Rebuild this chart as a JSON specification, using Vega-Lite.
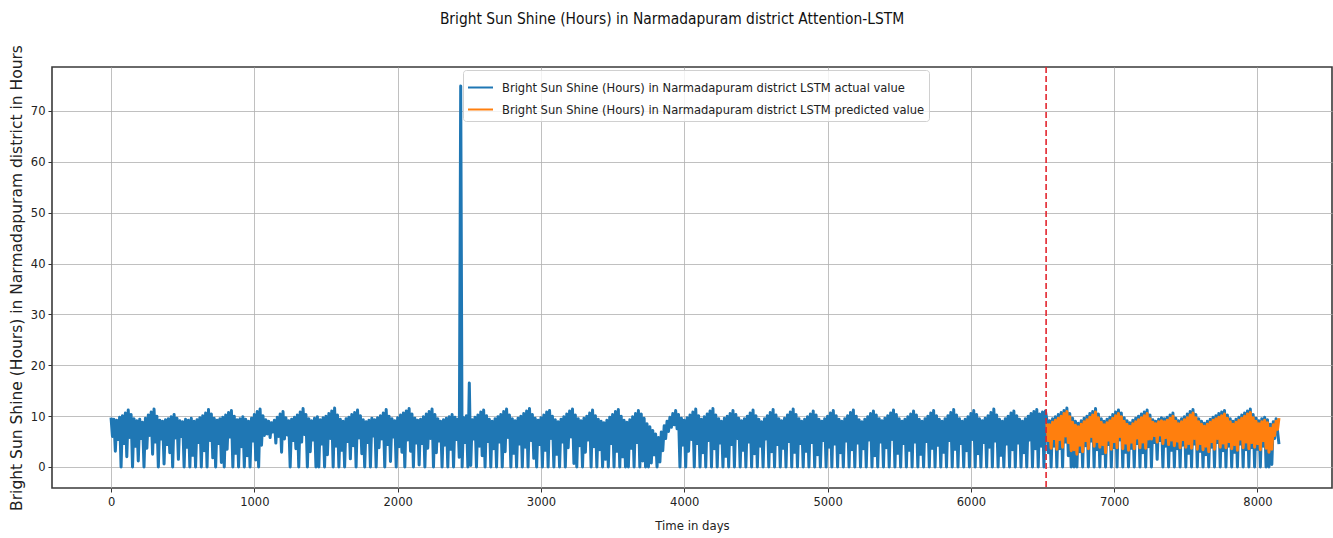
{
  "$schema": "https://vega.github.io/schema/vega-lite/v6.json",
  "width": 1280,
  "height": 421,
  "autosize": {"type": "none"},
  "padding": {"left": 52, "top": 67, "right": 1, "bottom": 50},
  "background": "white",
  "title": {
    "text": "Bright Sun Shine (Hours) in Narmadapuram district Attention-LSTM",
    "font": "DejaVu Sans Condensed, Liberation Sans Narrow, DejaVu Sans",
    "fontSize": 15.4,
    "fontWeight": "normal",
    "color": "#111111",
    "offset": 17,
    "dx": -20
  },
  "config": {
    "view": {"stroke": "#3a3a3a", "strokeWidth": 1.6},
    "axis": {
      "labelFont": "DejaVu Sans Condensed, Liberation Sans Narrow, DejaVu Sans",
      "labelFontSize": 12.8,
      "labelColor": "#222222",
      "tickColor": "#333333",
      "tickSize": 4,
      "labelPadding": 3,
      "gridColor": "#b0b0b0",
      "gridWidth": 0.8,
      "domain": false,
      "titleFontWeight": "normal",
      "titleColor": "#222222"
    }
  },
  "data": {"values": [
    {"t":0,"a":9.7},{"t":10,"a":6.0},{"t":20,"a":9.4},{"t":30,"a":3.1},{"t":40,"a":9.2},{"t":50,"a":5.4},{"t":60,"a":9.8},{"t":70,"a":0},{"t":80,"a":10.1},{"t":90,"a":4.6},{"t":100,"a":10.6},{"t":110,"a":2.0},{"t":120,"a":11.2},{"t":130,"a":5.8},{"t":140,"a":10.3},{"t":150,"a":0},{"t":160,"a":9.5},{"t":170,"a":4.1},
    {"t":180,"a":9.1},{"t":190,"a":1.2},{"t":200,"a":9.4},{"t":210,"a":5.6},{"t":220,"a":8.8},{"t":230,"a":0},{"t":240,"a":9.6},{"t":250,"a":3.7},{"t":260,"a":10.2},{"t":270,"a":6.2},{"t":280,"a":10.8},{"t":290,"a":2.5},{"t":300,"a":11.4},{"t":310,"a":4.9},{"t":320,"a":10.0},{"t":330,"a":0},{"t":340,"a":9.2},{"t":350,"a":5.5},
    {"t":360,"a":9.0},{"t":370,"a":0.6},{"t":380,"a":9.3},{"t":390,"a":4.4},{"t":400,"a":9.5},{"t":410,"a":2.8},{"t":420,"a":9.9},{"t":430,"a":0},{"t":440,"a":10.3},{"t":450,"a":5.7},{"t":460,"a":9.6},{"t":470,"a":1.5},{"t":480,"a":9.1},{"t":490,"a":6.0},{"t":500,"a":8.9},{"t":510,"a":0},{"t":520,"a":9.4},{"t":530,"a":3.9},
    {"t":540,"a":9.2},{"t":550,"a":0},{"t":560,"a":9.6},{"t":570,"a":2.3},{"t":580,"a":9.0},{"t":590,"a":0},{"t":600,"a":9.3},{"t":610,"a":4.8},{"t":620,"a":9.7},{"t":630,"a":0},{"t":640,"a":10.1},{"t":650,"a":3.2},{"t":660,"a":10.6},{"t":670,"a":0},{"t":680,"a":11.3},{"t":690,"a":5.2},{"t":700,"a":10.4},{"t":710,"a":1.8},
    {"t":720,"a":9.6},{"t":730,"a":0},{"t":740,"a":9.2},{"t":750,"a":4.6},{"t":760,"a":9.5},{"t":770,"a":0.9},{"t":780,"a":9.8},{"t":790,"a":0},{"t":800,"a":10.2},{"t":810,"a":3.5},{"t":820,"a":10.7},{"t":830,"a":5.9},{"t":840,"a":11.1},{"t":850,"a":0},{"t":860,"a":10.0},{"t":870,"a":2.7},{"t":880,"a":9.3},{"t":890,"a":0},
    {"t":900,"a":9.5},{"t":910,"a":4.0},{"t":920,"a":9.9},{"t":930,"a":0},{"t":940,"a":9.4},{"t":950,"a":2.2},{"t":960,"a":9.0},{"t":970,"a":0},{"t":980,"a":9.6},{"t":990,"a":5.1},{"t":1000,"a":10.3},{"t":1010,"a":1.4},{"t":1020,"a":10.9},{"t":1030,"a":0},{"t":1040,"a":11.4},{"t":1050,"a":4.3},{"t":1060,"a":10.1},{"t":1070,"a":6.2},
    {"t":1080,"a":9.3},{"t":1090,"a":6.5},{"t":1100,"a":9.0},{"t":1110,"a":5.8},{"t":1120,"a":8.7},{"t":1130,"a":6.9},{"t":1140,"a":9.2},{"t":1150,"a":4.7},{"t":1160,"a":9.8},{"t":1170,"a":6.0},{"t":1180,"a":10.4},{"t":1190,"a":2.9},{"t":1200,"a":10.9},{"t":1210,"a":5.5},{"t":1220,"a":9.7},{"t":1230,"a":6.3},{"t":1240,"a":9.1},{"t":1250,"a":0},
    {"t":1260,"a":9.4},{"t":1270,"a":5.2},{"t":1280,"a":9.8},{"t":1290,"a":3.6},{"t":1300,"a":10.2},{"t":1310,"a":0},{"t":1320,"a":10.8},{"t":1330,"a":4.9},{"t":1340,"a":11.5},{"t":1350,"a":6.4},{"t":1360,"a":10.3},{"t":1370,"a":0},{"t":1380,"a":9.5},{"t":1390,"a":3.0},{"t":1400,"a":9.1},{"t":1410,"a":5.3},{"t":1420,"a":9.6},{"t":1430,"a":0},
    {"t":1440,"a":9.9},{"t":1450,"a":0},{"t":1460,"a":9.3},{"t":1470,"a":4.5},{"t":1480,"a":9.7},{"t":1490,"a":0},{"t":1500,"a":10.0},{"t":1510,"a":2.4},{"t":1520,"a":10.5},{"t":1530,"a":5.6},{"t":1540,"a":11.0},{"t":1550,"a":0},{"t":1560,"a":11.6},{"t":1570,"a":4.1},{"t":1580,"a":10.2},{"t":1590,"a":0},{"t":1600,"a":9.4},{"t":1610,"a":3.3},
    {"t":1620,"a":9.0},{"t":1630,"a":0},{"t":1640,"a":9.5},{"t":1650,"a":5.0},{"t":1660,"a":9.8},{"t":1670,"a":1.6},{"t":1680,"a":10.3},{"t":1690,"a":4.2},{"t":1700,"a":10.7},{"t":1710,"a":0},{"t":1720,"a":11.2},{"t":1730,"a":5.7},{"t":1740,"a":10.1},{"t":1750,"a":2.6},{"t":1760,"a":9.3},{"t":1770,"a":0},{"t":1780,"a":8.9},{"t":1790,"a":4.8},
    {"t":1800,"a":9.2},{"t":1810,"a":0},{"t":1820,"a":9.6},{"t":1830,"a":6.1},{"t":1840,"a":9.3},{"t":1850,"a":0},{"t":1860,"a":9.7},{"t":1870,"a":3.8},{"t":1880,"a":10.1},{"t":1890,"a":5.5},{"t":1900,"a":10.6},{"t":1910,"a":0},{"t":1920,"a":11.3},{"t":1930,"a":4.4},{"t":1940,"a":10.0},{"t":1950,"a":1.1},{"t":1960,"a":9.5},{"t":1970,"a":5.9},
    {"t":1980,"a":9.1},{"t":1990,"a":0},{"t":2000,"a":9.7},{"t":2010,"a":4.0},{"t":2020,"a":10.2},{"t":2030,"a":2.9},{"t":2040,"a":10.6},{"t":2050,"a":0},{"t":2060,"a":11.0},{"t":2070,"a":5.3},{"t":2080,"a":11.5},{"t":2090,"a":3.1},{"t":2100,"a":10.4},{"t":2110,"a":0},{"t":2120,"a":9.6},{"t":2130,"a":4.7},{"t":2140,"a":9.2},{"t":2150,"a":0.4},
    {"t":2160,"a":9.4},{"t":2170,"a":4.6},{"t":2180,"a":9.9},{"t":2190,"a":0},{"t":2200,"a":10.4},{"t":2210,"a":3.7},{"t":2220,"a":10.9},{"t":2230,"a":5.6},{"t":2240,"a":11.4},{"t":2250,"a":0},{"t":2260,"a":10.3},{"t":2270,"a":2.8},{"t":2280,"a":9.5},{"t":2290,"a":5.1},{"t":2300,"a":9.0},{"t":2310,"a":0},{"t":2320,"a":9.3},{"t":2330,"a":4.3},
    {"t":2340,"a":9.6},{"t":2350,"a":0},{"t":2360,"a":9.9},{"t":2370,"a":3.5},{"t":2380,"a":10.3},{"t":2390,"a":0},{"t":2400,"a":9.8},{"t":2410,"a":5.4},{"t":2420,"a":9.4},{"t":2430,"a":1.9},{"t":2440,"a":74.9},{"t":2450,"a":0},{"t":2460,"a":9.7},{"t":2470,"a":4.8},{"t":2480,"a":10.1},{"t":2490,"a":0},{"t":2500,"a":16.5},{"t":2510,"a":0.3},
    {"t":2520,"a":9.3},{"t":2530,"a":5.5},{"t":2540,"a":9.8},{"t":2550,"a":0},{"t":2560,"a":10.2},{"t":2570,"a":4.1},{"t":2580,"a":10.8},{"t":2590,"a":2.2},{"t":2600,"a":11.2},{"t":2610,"a":0},{"t":2620,"a":10.1},{"t":2630,"a":5.0},{"t":2640,"a":9.4},{"t":2650,"a":0},{"t":2660,"a":9.0},{"t":2670,"a":3.6},{"t":2680,"a":9.5},{"t":2690,"a":0},
    {"t":2700,"a":9.9},{"t":2710,"a":4.9},{"t":2720,"a":10.3},{"t":2730,"a":0},{"t":2740,"a":10.9},{"t":2750,"a":3.0},{"t":2760,"a":11.4},{"t":2770,"a":5.8},{"t":2780,"a":10.2},{"t":2790,"a":0},{"t":2800,"a":9.5},{"t":2810,"a":2.7},{"t":2820,"a":9.1},{"t":2830,"a":0},{"t":2840,"a":9.6},{"t":2850,"a":4.5},{"t":2860,"a":10.0},{"t":2870,"a":0},
    {"t":2880,"a":10.5},{"t":2890,"a":3.9},{"t":2900,"a":11.0},{"t":2910,"a":0},{"t":2920,"a":11.5},{"t":2930,"a":5.2},{"t":2940,"a":10.3},{"t":2950,"a":1.7},{"t":2960,"a":9.6},{"t":2970,"a":0},{"t":2980,"a":9.2},{"t":2990,"a":4.4},{"t":3000,"a":9.7},{"t":3010,"a":0},{"t":3020,"a":10.2},{"t":3030,"a":3.3},{"t":3040,"a":10.8},{"t":3050,"a":0},
    {"t":3060,"a":11.1},{"t":3070,"a":5.6},{"t":3080,"a":10.0},{"t":3090,"a":0},{"t":3100,"a":9.3},{"t":3110,"a":2.5},{"t":3120,"a":8.9},{"t":3130,"a":0},{"t":3140,"a":9.4},{"t":3150,"a":4.9},{"t":3160,"a":9.9},{"t":3170,"a":0},{"t":3180,"a":10.4},{"t":3190,"a":3.8},{"t":3200,"a":11.0},{"t":3210,"a":5.9},{"t":3220,"a":11.4},{"t":3230,"a":0.7},
    {"t":3240,"a":10.2},{"t":3250,"a":0},{"t":3260,"a":9.5},{"t":3270,"a":4.2},{"t":3280,"a":9.1},{"t":3290,"a":0},{"t":3300,"a":9.6},{"t":3310,"a":2.9},{"t":3320,"a":10.0},{"t":3330,"a":5.3},{"t":3340,"a":10.6},{"t":3350,"a":0},{"t":3360,"a":11.2},{"t":3370,"a":4.0},{"t":3380,"a":10.1},{"t":3390,"a":0},{"t":3400,"a":9.4},{"t":3410,"a":3.4},
    {"t":3420,"a":9.0},{"t":3430,"a":0},{"t":3440,"a":8.7},{"t":3450,"a":1.5},{"t":3460,"a":9.2},{"t":3470,"a":0},{"t":3480,"a":9.8},{"t":3490,"a":4.6},{"t":3500,"a":10.3},{"t":3510,"a":0},{"t":3520,"a":10.9},{"t":3530,"a":3.1},{"t":3540,"a":11.3},{"t":3550,"a":0},{"t":3560,"a":10.0},{"t":3570,"a":2.0},{"t":3580,"a":9.2},{"t":3590,"a":0},
    {"t":3600,"a":8.8},{"t":3610,"a":0},{"t":3620,"a":9.3},{"t":3630,"a":3.7},{"t":3640,"a":9.9},{"t":3650,"a":0},{"t":3660,"a":10.5},{"t":3670,"a":4.8},{"t":3680,"a":11.1},{"t":3690,"a":0},{"t":3700,"a":10.4},{"t":3710,"a":1.2},{"t":3720,"a":9.6},{"t":3730,"a":0},{"t":3740,"a":8.5},{"t":3750,"a":0},{"t":3760,"a":7.9},{"t":3770,"a":0.8},
    {"t":3780,"a":7.2},{"t":3790,"a":2.4},{"t":3800,"a":6.5},{"t":3810,"a":0},{"t":3820,"a":5.8},{"t":3830,"a":1.0},{"t":3840,"a":6.9},{"t":3850,"a":3.2},{"t":3860,"a":8.1},{"t":3870,"a":5.6},{"t":3880,"a":9.0},{"t":3890,"a":7.0},{"t":3900,"a":9.8},{"t":3910,"a":7.8},{"t":3920,"a":10.5},{"t":3930,"a":8.3},{"t":3940,"a":11.1},{"t":3950,"a":7.5},
    {"t":3960,"a":10.3},{"t":3970,"a":0},{"t":3980,"a":9.6},{"t":3990,"a":4.3},{"t":4000,"a":9.2},{"t":4010,"a":0},{"t":4020,"a":9.7},{"t":4030,"a":3.1},{"t":4040,"a":10.2},{"t":4050,"a":5.4},{"t":4060,"a":10.8},{"t":4070,"a":0},{"t":4080,"a":11.4},{"t":4090,"a":4.6},{"t":4100,"a":10.1},{"t":4110,"a":0},{"t":4120,"a":9.4},{"t":4130,"a":2.8},
    {"t":4140,"a":9.9},{"t":4150,"a":0},{"t":4160,"a":10.4},{"t":4170,"a":5.2},{"t":4180,"a":11.0},{"t":4190,"a":0},{"t":4200,"a":11.5},{"t":4210,"a":3.6},{"t":4220,"a":10.2},{"t":4230,"a":0},{"t":4240,"a":9.5},{"t":4250,"a":4.7},{"t":4260,"a":9.0},{"t":4270,"a":0},{"t":4280,"a":9.6},{"t":4290,"a":2.1},{"t":4300,"a":10.0},{"t":4310,"a":0},
    {"t":4320,"a":10.5},{"t":4330,"a":4.4},{"t":4340,"a":11.1},{"t":4350,"a":0},{"t":4360,"a":10.3},{"t":4370,"a":5.6},{"t":4380,"a":9.6},{"t":4390,"a":0},{"t":4400,"a":9.1},{"t":4410,"a":3.3},{"t":4420,"a":9.5},{"t":4430,"a":0},{"t":4440,"a":10.0},{"t":4450,"a":4.9},{"t":4460,"a":10.6},{"t":4470,"a":0},{"t":4480,"a":11.2},{"t":4490,"a":2.6},
    {"t":4500,"a":10.1},{"t":4510,"a":0},{"t":4520,"a":9.4},{"t":4530,"a":4.1},{"t":4540,"a":8.9},{"t":4550,"a":0},{"t":4560,"a":9.5},{"t":4570,"a":5.5},{"t":4580,"a":10.1},{"t":4590,"a":0},{"t":4600,"a":10.7},{"t":4610,"a":3.0},{"t":4620,"a":11.3},{"t":4630,"a":0},{"t":4640,"a":10.2},{"t":4650,"a":4.4},{"t":4660,"a":9.5},{"t":4670,"a":0},
    {"t":4680,"a":9.1},{"t":4690,"a":3.7},{"t":4700,"a":9.6},{"t":4710,"a":0},{"t":4720,"a":10.2},{"t":4730,"a":5.0},{"t":4740,"a":10.8},{"t":4750,"a":0},{"t":4760,"a":11.4},{"t":4770,"a":2.9},{"t":4780,"a":10.3},{"t":4790,"a":0},{"t":4800,"a":9.5},{"t":4810,"a":4.6},{"t":4820,"a":9.0},{"t":4830,"a":0},{"t":4840,"a":9.4},{"t":4850,"a":3.1},
    {"t":4860,"a":9.9},{"t":4870,"a":0},{"t":4880,"a":10.4},{"t":4890,"a":4.8},{"t":4900,"a":11.0},{"t":4910,"a":0},{"t":4920,"a":10.2},{"t":4930,"a":2.4},{"t":4940,"a":9.4},{"t":4950,"a":0},{"t":4960,"a":9.0},{"t":4970,"a":5.2},{"t":4980,"a":9.5},{"t":4990,"a":0},{"t":5000,"a":10.0},{"t":5010,"a":3.9},{"t":5020,"a":10.6},{"t":5030,"a":0},
    {"t":5040,"a":11.1},{"t":5050,"a":4.5},{"t":5060,"a":10.1},{"t":5070,"a":0},{"t":5080,"a":9.4},{"t":5090,"a":2.8},{"t":5100,"a":9.0},{"t":5110,"a":0},{"t":5120,"a":9.5},{"t":5130,"a":5.1},{"t":5140,"a":10.1},{"t":5150,"a":0},{"t":5160,"a":10.7},{"t":5170,"a":3.4},{"t":5180,"a":11.2},{"t":5190,"a":0},{"t":5200,"a":10.0},{"t":5210,"a":4.7},
    {"t":5220,"a":9.3},{"t":5230,"a":0},{"t":5240,"a":8.9},{"t":5250,"a":3.6},{"t":5260,"a":9.4},{"t":5270,"a":0},{"t":5280,"a":9.9},{"t":5290,"a":5.3},{"t":5300,"a":10.5},{"t":5310,"a":0},{"t":5320,"a":11.0},{"t":5330,"a":2.2},{"t":5340,"a":10.2},{"t":5350,"a":0},{"t":5360,"a":9.5},{"t":5370,"a":4.9},{"t":5380,"a":9.1},{"t":5390,"a":0},
    {"t":5400,"a":9.6},{"t":5410,"a":3.8},{"t":5420,"a":10.1},{"t":5430,"a":0},{"t":5440,"a":10.6},{"t":5450,"a":5.4},{"t":5460,"a":11.2},{"t":5470,"a":0},{"t":5480,"a":10.3},{"t":5490,"a":2.7},{"t":5500,"a":9.5},{"t":5510,"a":0},{"t":5520,"a":9.0},{"t":5530,"a":4.6},{"t":5540,"a":9.4},{"t":5550,"a":0},{"t":5560,"a":9.9},{"t":5570,"a":3.3},
    {"t":5580,"a":10.4},{"t":5590,"a":0},{"t":5600,"a":11.0},{"t":5610,"a":4.9},{"t":5620,"a":10.2},{"t":5630,"a":0},{"t":5640,"a":9.4},{"t":5650,"a":2.5},{"t":5660,"a":9.0},{"t":5670,"a":0},{"t":5680,"a":9.5},{"t":5690,"a":5.0},{"t":5700,"a":10.0},{"t":5710,"a":0},{"t":5720,"a":10.6},{"t":5730,"a":3.7},{"t":5740,"a":11.1},{"t":5750,"a":0},
    {"t":5760,"a":10.1},{"t":5770,"a":4.3},{"t":5780,"a":9.4},{"t":5790,"a":0},{"t":5800,"a":9.0},{"t":5810,"a":2.9},{"t":5820,"a":9.5},{"t":5830,"a":0},{"t":5840,"a":10.1},{"t":5850,"a":5.2},{"t":5860,"a":10.7},{"t":5870,"a":0},{"t":5880,"a":11.3},{"t":5890,"a":3.5},{"t":5900,"a":10.2},{"t":5910,"a":0},{"t":5920,"a":9.5},{"t":5930,"a":4.6},
    {"t":5940,"a":9.0},{"t":5950,"a":0},{"t":5960,"a":9.4},{"t":5970,"a":3.2},{"t":5980,"a":9.9},{"t":5990,"a":0},{"t":6000,"a":10.5},{"t":6010,"a":5.4},{"t":6020,"a":11.1},{"t":6030,"a":0},{"t":6040,"a":10.3},{"t":6050,"a":2.6},{"t":6060,"a":9.5},{"t":6070,"a":0},{"t":6080,"a":9.1},{"t":6090,"a":4.8},{"t":6100,"a":9.6},{"t":6110,"a":0},
    {"t":6120,"a":10.1},{"t":6130,"a":3.9},{"t":6140,"a":10.7},{"t":6150,"a":0},{"t":6160,"a":11.4},{"t":6170,"a":5.1},{"t":6180,"a":10.2},{"t":6190,"a":0},{"t":6200,"a":9.4},{"t":6210,"a":2.3},{"t":6220,"a":9.0},{"t":6230,"a":0},{"t":6240,"a":9.5},{"t":6250,"a":4.5},{"t":6260,"a":10.0},{"t":6270,"a":0},{"t":6280,"a":10.6},{"t":6290,"a":3.4},
    {"t":6300,"a":11.0},{"t":6310,"a":0},{"t":6320,"a":10.1},{"t":6330,"a":4.7},{"t":6340,"a":9.4},{"t":6350,"a":0},{"t":6360,"a":9.0},{"t":6370,"a":2.8},{"t":6380,"a":9.5},{"t":6390,"a":0},{"t":6400,"a":10.0},{"t":6410,"a":5.3},{"t":6420,"a":10.5},{"t":6430,"a":0},{"t":6440,"a":10.9},{"t":6450,"a":3.6},{"t":6460,"a":11.3},{"t":6470,"a":0},
    {"t":6480,"a":10.4},{"t":6490,"a":4.1},{"t":6500,"a":10.8},{"t":6510,"a":0},{"t":6520,"a":11.0},
    {"t":6530,"a":9.4,"p":8.6},{"t":6540,"a":2.8,"p":5.2},{"t":6550,"a":9.1,"p":8.3},{"t":6560,"a":0,"p":3.7},{"t":6570,"a":9.5,"p":8.8},{"t":6580,"a":4.1,"p":5.6},{"t":6590,"a":9.9,"p":9.2},{"t":6600,"a":0,"p":3.5},{"t":6610,"a":10.3,"p":9.6},{"t":6620,"a":3.6,"p":5.4},{"t":6630,"a":10.7,"p":10.0},{"t":6640,"a":0,"p":3.9},{"t":6650,"a":11.1,"p":10.5},{"t":6660,"a":4.9,"p":6.1},{"t":6670,"a":11.6,"p":10.9},{"t":6680,"a":2.2,"p":4.8},{"t":6690,"a":10.5,"p":9.9},{"t":6700,"a":0,"p":3.2},
    {"t":6710,"a":9.6,"p":8.8},{"t":6720,"a":0,"p":3.4},{"t":6730,"a":9.0,"p":8.2},{"t":6740,"a":0,"p":2.5},{"t":6750,"a":8.6,"p":7.9},{"t":6760,"a":3.0,"p":4.3},{"t":6770,"a":9.1,"p":8.4},{"t":6780,"a":0,"p":3.0},{"t":6790,"a":9.6,"p":8.9},{"t":6800,"a":4.2,"p":5.2},{"t":6810,"a":10.0,"p":9.3},{"t":6820,"a":0,"p":3.6},{"t":6830,"a":10.5,"p":9.8},{"t":6840,"a":5.1,"p":6.0},{"t":6850,"a":10.9,"p":10.2},{"t":6860,"a":0,"p":4.1},{"t":6870,"a":11.5,"p":10.8},{"t":6880,"a":3.4,"p":5.0},
    {"t":6890,"a":10.4,"p":9.7},{"t":6900,"a":0,"p":3.9},{"t":6910,"a":9.5,"p":8.8},{"t":6920,"a":2.6,"p":4.4},{"t":6930,"a":9.0,"p":8.3},{"t":6940,"a":0,"p":2.8},{"t":6950,"a":9.4,"p":8.7},{"t":6960,"a":4.4,"p":5.3},{"t":6970,"a":9.8,"p":9.1},{"t":6980,"a":0,"p":3.5},{"t":6990,"a":10.3,"p":9.6},{"t":7000,"a":3.8,"p":5.0},{"t":7010,"a":10.8,"p":10.1},{"t":7020,"a":0,"p":3.8},{"t":7030,"a":11.2,"p":10.5},{"t":7040,"a":5.3,"p":6.0},{"t":7050,"a":10.6,"p":9.9},{"t":7060,"a":0,"p":3.6},
    {"t":7070,"a":9.7,"p":9.0},{"t":7080,"a":2.9,"p":4.7},{"t":7090,"a":9.1,"p":8.4},{"t":7100,"a":0,"p":3.3},{"t":7110,"a":8.7,"p":8.0},{"t":7120,"a":3.7,"p":4.9},{"t":7130,"a":9.2,"p":8.5},{"t":7140,"a":0,"p":3.6},{"t":7150,"a":9.6,"p":8.9},{"t":7160,"a":4.6,"p":5.7},{"t":7170,"a":10.0,"p":9.3},{"t":7180,"a":0,"p":3.8},{"t":7190,"a":10.4,"p":9.7},{"t":7200,"a":2.8,"p":4.9},{"t":7210,"a":10.8,"p":10.1},{"t":7220,"a":0,"p":3.7},{"t":7230,"a":11.2,"p":10.5},{"t":7240,"a":4.0,"p":5.5},
    {"t":7250,"a":10.2,"p":9.5},{"t":7260,"a":0,"p":5.5},{"t":7270,"a":9.3,"p":8.8},{"t":7280,"a":4.8,"p":6.2},{"t":7290,"a":9.0,"p":8.5},{"t":7300,"a":1.5,"p":4.9},{"t":7310,"a":9.4,"p":8.9},{"t":7320,"a":5.2,"p":6.3},{"t":7330,"a":9.7,"p":9.1},{"t":7340,"a":0,"p":4.6},{"t":7350,"a":9.5,"p":8.9},{"t":7360,"a":4.1,"p":5.8},{"t":7370,"a":9.8,"p":9.2},{"t":7380,"a":0,"p":4.4},{"t":7390,"a":10.2,"p":9.6},{"t":7400,"a":3.3,"p":5.3},{"t":7410,"a":10.6,"p":10.0},{"t":7420,"a":0,"p":4.2},
    {"t":7430,"a":9.6,"p":9.0},{"t":7440,"a":3.6,"p":5.1},{"t":7450,"a":9.1,"p":8.5},{"t":7460,"a":0,"p":3.8},{"t":7470,"a":9.5,"p":8.9},{"t":7480,"a":4.3,"p":5.4},{"t":7490,"a":9.9,"p":9.3},{"t":7500,"a":0,"p":3.9},{"t":7510,"a":10.4,"p":9.7},{"t":7520,"a":2.7,"p":4.6},{"t":7530,"a":10.9,"p":10.2},{"t":7540,"a":0,"p":3.7},{"t":7550,"a":11.3,"p":10.6},{"t":7560,"a":4.5,"p":5.6},{"t":7570,"a":10.3,"p":9.7},{"t":7580,"a":0,"p":3.5},{"t":7590,"a":9.5,"p":8.9},{"t":7600,"a":3.1,"p":4.6},
    {"t":7610,"a":9.0,"p":8.4},{"t":7620,"a":0,"p":3.4},{"t":7630,"a":8.6,"p":8.0},{"t":7640,"a":2.4,"p":4.1},{"t":7650,"a":9.0,"p":8.4},{"t":7660,"a":0,"p":3.0},{"t":7670,"a":9.4,"p":8.8},{"t":7680,"a":3.9,"p":5.0},{"t":7690,"a":9.8,"p":9.2},{"t":7700,"a":0,"p":3.5},{"t":7710,"a":10.1,"p":9.5},{"t":7720,"a":4.8,"p":5.6},{"t":7730,"a":10.5,"p":9.8},{"t":7740,"a":0,"p":3.9},{"t":7750,"a":10.8,"p":10.1},{"t":7760,"a":3.2,"p":4.7},{"t":7770,"a":11.1,"p":10.4},{"t":7780,"a":0,"p":3.8},
    {"t":7790,"a":10.2,"p":9.6},{"t":7800,"a":4.1,"p":5.0},{"t":7810,"a":9.5,"p":8.9},{"t":7820,"a":0,"p":3.6},{"t":7830,"a":9.0,"p":8.4},{"t":7840,"a":2.9,"p":4.4},{"t":7850,"a":9.4,"p":8.8},{"t":7860,"a":0,"p":3.3},{"t":7870,"a":9.8,"p":9.2},{"t":7880,"a":4.5,"p":5.5},{"t":7890,"a":10.2,"p":9.6},{"t":7900,"a":0,"p":3.8},{"t":7910,"a":10.6,"p":10.0},{"t":7920,"a":3.4,"p":4.9},{"t":7930,"a":11.0,"p":10.4},{"t":7940,"a":0,"p":3.6},{"t":7950,"a":11.4,"p":10.7},{"t":7960,"a":3.8,"p":4.8},
    {"t":7970,"a":10.3,"p":9.7},{"t":7980,"a":0,"p":3.9},{"t":7990,"a":9.6,"p":9.0},{"t":8000,"a":3.5,"p":4.6},{"t":8010,"a":9.1,"p":8.5},{"t":8020,"a":0,"p":3.4},{"t":8030,"a":9.5,"p":8.9},{"t":8040,"a":4.1,"p":5.2},{"t":8050,"a":9.8,"p":9.2},{"t":8060,"a":0,"p":3.7},{"t":8070,"a":9.3,"p":8.7},{"t":8080,"a":0,"p":2.9},{"t":8090,"a":8.4,"p":7.6},{"t":8100,"a":0.5,"p":3.5},{"t":8110,"a":8.9,"p":8.3},{"t":8120,"a":5.6,"p":6.2},{"t":8130,"a":9.5,"p":9.0},{"t":8140,"a":7.0,"p":7.4},
    {"t":8150,"a":4.5,"p":9.6}
  ]},
  "transform": [
    {"fold": ["a", "p"], "as": ["s", "v"]},
    {"filter": "isValid(datum.v)"}
  ],
  "layer": [
    {
      "transform": [{"filter": "datum.s == 'a'"}],
      "mark": {"type": "line", "strokeWidth": 3, "strokeJoin": "round", "clip": true},
      "encoding": {
        "x": {
          "field": "t", "type": "quantitative",
          "scale": {"domain": [-412, 8520], "nice": false, "zero": false},
          "axis": {"values": [0,1000,2000,3000,4000,5000,6000,7000,8000], "format": "d", "title": "Time in days",
                   "titleFont": "DejaVu Sans Condensed, Liberation Sans Narrow, DejaVu Sans", "titleFontSize": 13,
                   "titleY": 37, "titleBaseline": "middle"}
        },
        "y": {
          "field": "v", "type": "quantitative",
          "scale": {"domain": [-4.13, 78.65], "nice": false, "zero": false},
          "axis": {"values": [0,10,20,30,40,50,60,70], "format": "d", "title": "Bright Sun Shine (Hours) in Narmadapuram district in Hours",
                   "titleFont": "DejaVu Sans", "titleFontSize": 15.5,
                   "titleX": -36, "titleY": 210.5, "titleBaseline": "middle", "titleAlign": "center", "titleAngle": 270}
        },
        "color": {
          "field": "s", "type": "nominal",
          "scale": {"domain": ["a", "p"], "range": ["#1f77b4", "#ff7f0e"]},
          "legend": {
            "title": null, "orient": "none", "legendX": 411, "legendY": 3, "direction": "vertical",
            "symbolType": "stroke", "symbolSize": 625, "symbolStrokeWidth": 2,
            "labelFont": "DejaVu Sans Condensed, Liberation Sans Narrow, DejaVu Sans", "labelFontSize": 12.8,
            "labelColor": "#222222", "labelLimit": 0, "labelOffset": 8, "rowPadding": 1,
            "padding": 4, "fillColor": "rgba(255,255,255,0.8)", "strokeColor": "#d0d0d0", "cornerRadius": 3,
            "labelExpr": "datum.value == 'a' ? 'Bright Sun Shine (Hours) in Narmadapuram district LSTM actual value' : 'Bright Sun Shine (Hours) in Narmadapuram district LSTM predicted value'"
          }
        }
      }
    },
    {
      "transform": [{"filter": "datum.s == 'p'"}],
      "mark": {"type": "line", "strokeWidth": 3, "strokeJoin": "round", "clip": true},
      "encoding": {
        "x": {"field": "t", "type": "quantitative"},
        "y": {"field": "v", "type": "quantitative"},
        "color": {"field": "s", "type": "nominal"}
      }
    },
    {
      "data": {"values": [{}]},
      "mark": {"type": "rule", "color": "#e3262f", "strokeDash": [6, 3], "strokeWidth": 1.6},
      "encoding": {"x": {"datum": 6525}}
    }
  ]
}
